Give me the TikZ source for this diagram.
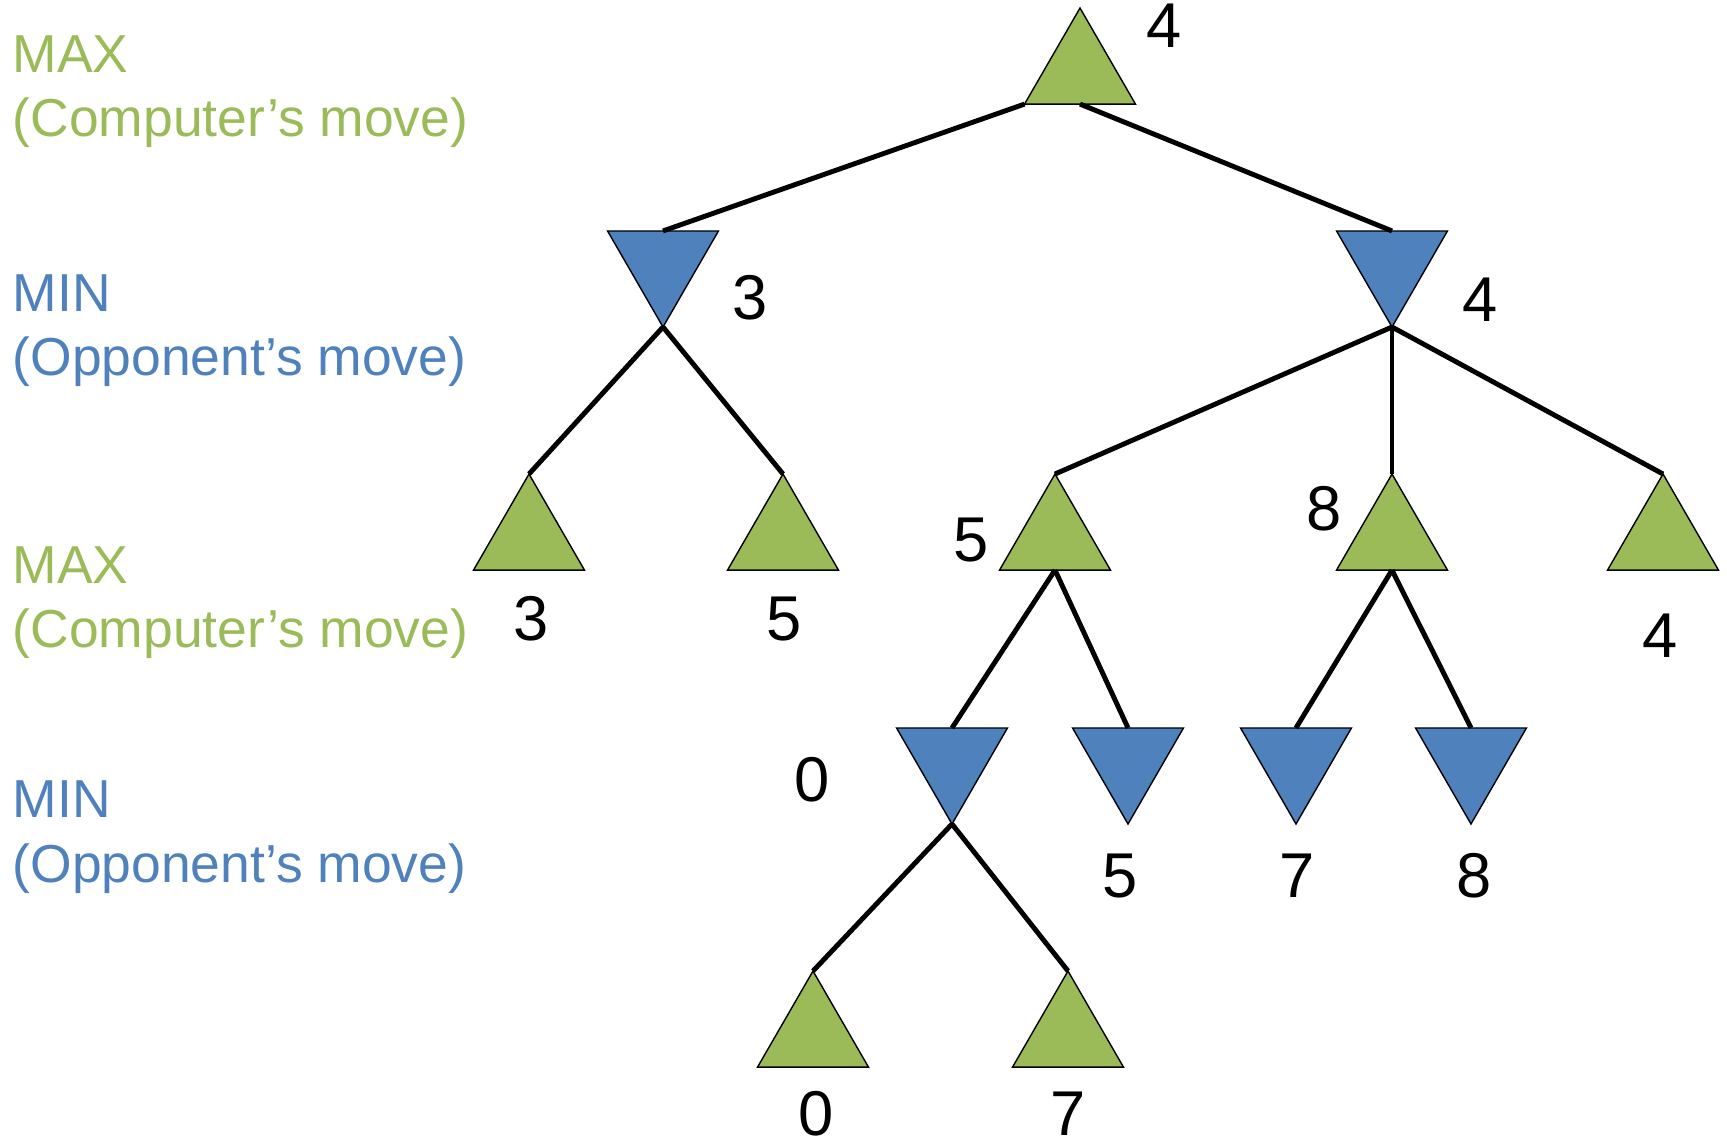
\documentclass[tikz,border=0pt]{standalone}
\usepackage{fontspec}
\setmainfont{Liberation Sans}
\usetikzlibrary{shapes.geometric}
\definecolor{maxgreen}{RGB}{155,187,89}
\definecolor{minblue}{RGB}{79,129,189}
\tikzset{
 maxnode/.style={regular polygon,regular polygon sides=3,minimum size=1.28cm,inner sep=0pt,outer sep=0pt,draw,thin,fill=maxgreen,anchor=north},
 minnode/.style={maxnode,fill=minblue,shape border rotate=180,anchor=south},
 branch/.style={line width=1.4pt},
 val/.style={inner sep=0pt,font=\fontsize{18}{21}\selectfont},
 lvl/.style={anchor=base west,inner sep=0pt,font=\fontsize{15.2}{18}\selectfont},
}
\begin{document}
\begin{tikzpicture}[x=0.01cm,y=-0.01cm]
 \useasboundingbox (0,0) rectangle (1727,1141);
 % 左の見出し
 \node[lvl,text=maxgreen] (lmax1) at (12,72) {MAX};
 \node[lvl,text=maxgreen] (lcom1) at (12,136) {(Computer’s move)};
 \node[lvl,text=minblue] (lmin1) at (12,311) {MIN};
 \node[lvl,text=minblue] (lopp1) at (12,375) {(Opponent’s move)};
 \node[lvl,text=maxgreen] (lmax2) at (12,583) {MAX};
 \node[lvl,text=maxgreen] (lcom2) at (12,647) {(Computer’s move)};
 \node[lvl,text=minblue] (lmin2) at (12,817) {MIN};
 \node[lvl,text=minblue] (lopp2) at (12,882) {(Opponent’s move)};
 % 三角形
 \node[maxnode] (root) at (1080,8) {}; %根
 \node[minnode] (n1) at (663,327) {};
 \node[minnode] (n2) at (1392,327) {};
 \node[maxnode] (a) at (529,474) {};
 \node[maxnode] (b) at (783,474) {};
 \node[maxnode] (c) at (1055,474) {};
 \node[maxnode] (d) at (1392,474) {};
 \node[maxnode] (e) at (1663,474) {};
 \node[minnode] (f) at (952,824) {};
 \node[minnode] (g) at (1128,824) {};
 \node[minnode] (h) at (1296,824) {};
 \node[minnode] (i) at (1471,824) {};
 \node[maxnode] (j) at (813,971) {};
 \node[maxnode] (k) at (1068,971) {};
 % 枝
 \draw[branch] (root.corner 2)--(n1.north);
 \draw[branch] (root.south)--(n2.north);
 \draw[branch] (n1.south)--(a.north);
 \draw[branch] (n1.south)--(b.north);
 \draw[branch] (n2.south)--(c.north);
 \draw[branch] (n2.south)--(d.north);
 \draw[branch] (n2.south)--(e.north);
 \draw[branch] (c.south)--(f.north);
 \draw[branch] (c.south)--(g.north);
 \draw[branch] (d.south)--(h.north);
 \draw[branch] (d.south)--(i.north);
 \draw[branch] (f.south)--(j.north);
 \draw[branch] (f.south)--(k.north);
 % 値
 \node[val] (vroot) at (1164,26) {4};
 \node[val] (vn1) at (750,298) {3};
 \node[val] (vn2) at (1480,300) {4};
 \node[val] (va) at (531,619) {3};
 \node[val] (vb) at (784,619) {5};
 \node[val] (vc) at (971,540) {5};
 \node[val] (vd) at (1324,509) {8};
 \node[val] (ve) at (1660,636) {4};
 \node[val] (vf) at (812,780) {0};
 \node[val] (vg) at (1120,876) {5};
 \node[val] (vh) at (1297,876) {7};
 \node[val] (vi) at (1474,876) {8};
 \node[val] (vj) at (816,1114) {0};
 \node[val] (vk) at (1068,1114) {7};
\end{tikzpicture}
\end{document}
